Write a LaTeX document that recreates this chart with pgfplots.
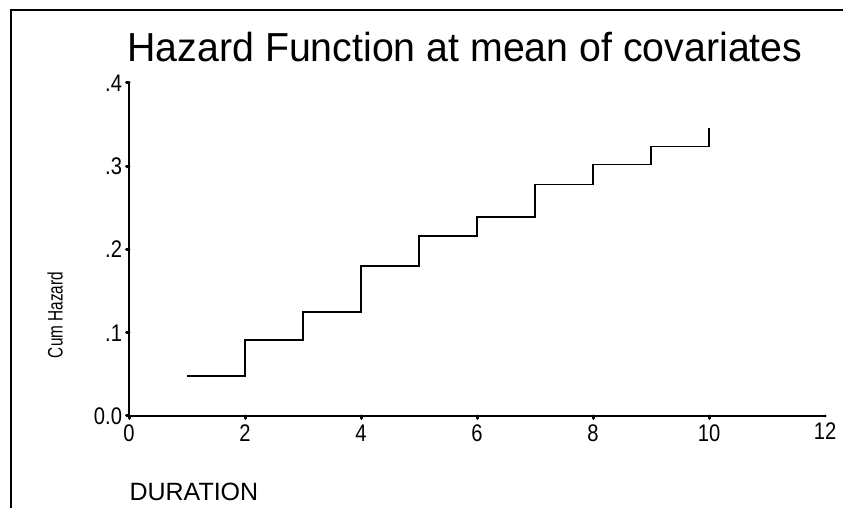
\documentclass[border=0pt]{standalone}
\usepackage{fontspec}
\setmainfont{Liberation Sans}
\usepackage{pgfplots}
\pgfplotsset{compat=1.18}
\newcommand{\tlab}[1]{\fontsize{24}{26}\selectfont\scalebox{0.84}[1]{#1}}
\begin{document}
\begin{tikzpicture}[x=1pt,y=1pt]
\path[use as bounding box] (0,0) rectangle (843,508);
% frame (top and left only)
\draw[line width=1.3pt] (11,0) -- (11,498) -- (843,498);
\begin{axis}[
    at={(129pt,92pt)}, anchor=south west,
    scale only axis,
    width=696pt, height=333pt,
    xmin=0, xmax=12, ymin=0, ymax=0.4,
    axis lines=left,
    axis line style={-, line width=1.5pt},
    xtick={0,2,4,6,8,10},
    xticklabels={\tlab{0},\tlab{2},\tlab{4},\tlab{6},\tlab{8},\tlab{10}},
    extra x ticks={12},
    extra x tick labels={\tlab{12}},
    extra x tick style={major tick length=0pt},
    ytick={0,0.1,0.2,0.3,0.4},
    yticklabels={\tlab{0.0},\tlab{.1},\tlab{.2},\tlab{.3},\tlab{.4}},
    tick align=outside,
    major tick length=2.5pt,
    tick style={line width=3pt, line cap=round, black},
    tick label style={font=\fontsize{24}{26}\selectfont},
    xticklabel style={yshift=-3pt},
    yticklabel style={xshift=-1pt},
    clip=false,
]
\addplot[const plot, line width=1.5pt, black] coordinates {
(1,0.048) (2,0.0913) (3,0.125) (4,0.180) (5,0.216) (6,0.239)
(7,0.278) (8,0.302) (9,0.3235) (10,0.3456)
};
\end{axis}
\node[anchor=base, font=\fontsize{40.5}{44}\selectfont] at (465,446) {\scalebox{0.97}[1]{Hazard Function at mean of covariates}};
\node[anchor=base west, font=\fontsize{25}{27}\selectfont] at (126,7.5) {DURATION};
\node[rotate=90, font=\fontsize{21}{23}\selectfont] at (55,193) {\scalebox{0.73}[1]{Cum Hazard}};
\end{tikzpicture}
\end{document}
